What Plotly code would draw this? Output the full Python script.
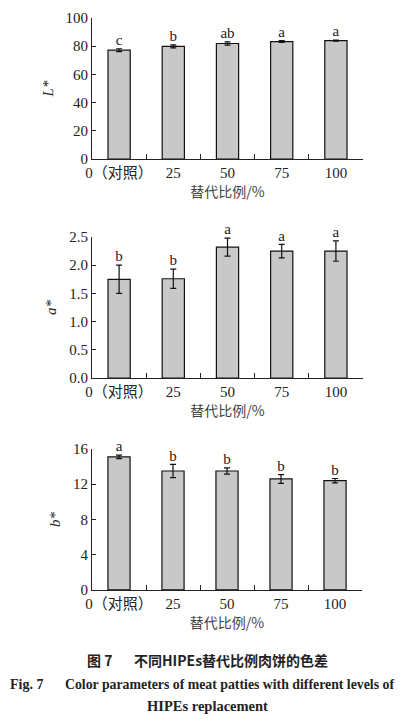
import plotly.graph_objects as go

categories = ["0（对照）", "25", "50", "75", "100"]

l_values = [77.2, 79.9, 81.9, 83.3, 84.0]
l_errors = [1.0, 1.1, 1.2, 0.6, 0.4]
l_letters = ["c", "b", "ab", "a", "a"]

a_values = [1.75, 1.76, 2.32, 2.25, 2.25]
a_errors = [0.25, 0.17, 0.16, 0.12, 0.18]
a_letters = ["b", "b", "a", "a", "a"]

b_values = [15.1, 13.5, 13.5, 12.6, 12.4]
b_errors = [0.2, 0.75, 0.35, 0.5, 0.25]
b_letters = ["a", "b", "b", "b", "b"]

SERIF = "Liberation Serif, Noto Sans CJK SC, serif"
panels = [
    ("L*", l_values, l_errors, l_letters, [0, 100], 20, [0.7792, 0.975], [0.2244, 0.8854]),
    ("a*", a_values, a_errors, a_letters, [0, 2.5], 0.5, [0.475, 0.6708], [0.2244, 0.8854]),
    ("b*", b_values, b_errors, b_letters, [0, 16], 4, [0.1806, 0.3764], [0.2244, 0.883]),
]

fig = go.Figure()
layout = {}
for i, (name, vals, errs, letters, yr, dt, ydom, xdom) in enumerate(panels, start=1):
    sfx = "" if i == 1 else str(i)
    fig.add_trace(go.Bar(
        x=categories, y=vals, width=0.41,
        marker=dict(color="#c8c8c8", line=dict(color="#111111", width=1.2)),
        error_y=dict(type="data", array=errs, color="#111111", thickness=1.2, width=3),
        xaxis="x" + sfx, yaxis="y" + sfx, showlegend=False,
    ))
    fig.add_trace(go.Scatter(
        x=categories, y=[v + e for v, e in zip(vals, errs)],
        mode="text", text=letters, textposition="top center",
        textfont=dict(family=SERIF, size=15, color="#222222"),
        xaxis="x" + sfx, yaxis="y" + sfx, showlegend=False, cliponaxis=False,
    ))
    fmt = ".1f" if dt < 1 else "d"
    layout["xaxis" + sfx] = dict(
        domain=xdom, anchor="y" + sfx, type="category", range=[-0.5, 4.5],
        automargin=False,
        showline=True, linecolor="#222222", linewidth=1.2,
        ticks="inside", tickson="boundaries", ticklen=5, tickcolor="#222222",
        tickangle=0,
        tickfont=dict(family=SERIF, size=15, color="#222222"),
        title=dict(text="替代比例/%", standoff=4,
                   font=dict(family="Noto Sans CJK SC", size=14, color="#444444")),
        showgrid=False, zeroline=False,
    )
    layout["yaxis" + sfx] = dict(
        domain=ydom, anchor="x" + sfx, range=yr, dtick=dt, tickformat=fmt,
        automargin=False,
        showline=True, linecolor="#222222", linewidth=1.2,
        ticks="inside", ticklen=4, tickcolor="#222222",
        tickfont=dict(family=SERIF, size=15, color="#222222"),
        title=dict(text="<i>%s</i>" % name, standoff=8,
                   font=dict(family=SERIF, size=15, color="#222222")),
        showgrid=False, zeroline=False,
    )

fig.update_layout(
    width=410, height=720, margin=dict(l=0, r=0, t=0, b=0),
    paper_bgcolor="white", plot_bgcolor="white", bargap=0.6,
    **layout,
)

# caption lines (x in px from left, y in px from top)
captions = [
    ("<b>图 7</b>", 85, 660, "left", "Noto Sans CJK SC", 14),
    ("<b>不同HIPEs替代比例肉饼的色差</b>", 132, 660, "left", "Noto Sans CJK SC", 14),
    ("<b>Fig. 7</b>", 8, 684, "left", SERIF, 14),
    ("<b>Color parameters of meat patties with different levels of</b>", 63, 684, "left", SERIF, 13.8),
    ("<b>HIPEs replacement</b>", 207, 706, "center", SERIF, 14.5),
]
for txt, px_x, px_y, anchor, fam, size in captions:
    fig.add_annotation(text=txt, x=px_x / 410, y=1 - px_y / 720,
                       xanchor=anchor, yanchor="middle",
                       xref="paper", yref="paper", showarrow=False,
                       font=dict(family=fam, size=size, color="#222222"))

# page body has a default 8px margin; drop it so the figure sits at the corner
fig.write_html("out.html", config={"displayModeBar": False},
               post_script="document.body.style.margin='0';")
